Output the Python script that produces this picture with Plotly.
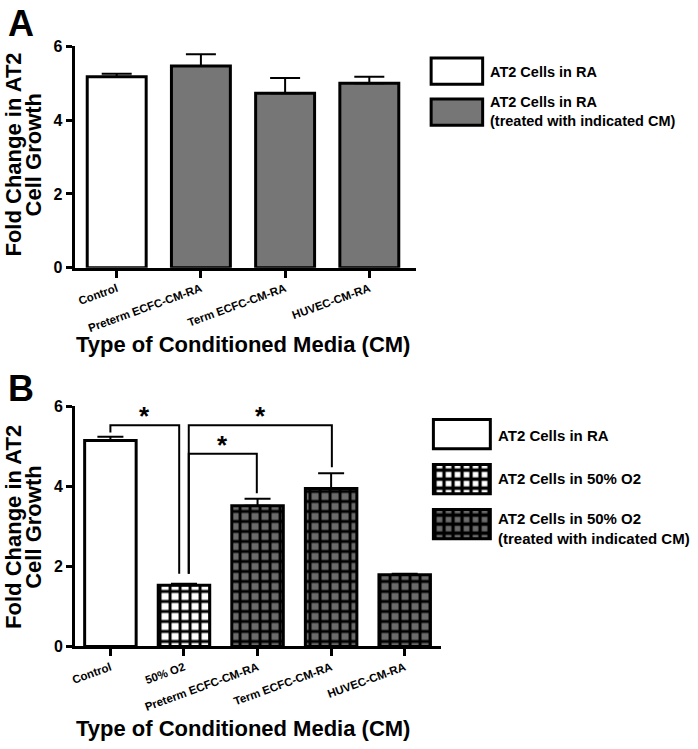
import plotly.graph_objects as go

# ---------------- data ----------------
categories_a = ["Control", "Preterm ECFC-CM-RA", "Term ECFC-CM-RA", "HUVEC-CM-RA"]
values_a = [5.18, 5.47, 4.73, 5.00]
errors_a = [0.08, 0.32, 0.41, 0.18]

categories_b = ["Control", "50% O2", "Preterm ECFC-CM-RA", "Term ECFC-CM-RA", "HUVEC-CM-RA"]
values_b = [5.15, 1.53, 3.52, 3.95, 1.79]
errors_b = [0.09, 0.04, 0.17, 0.38, 0.03]
groups_b = ["ra", "o2", "cm", "cm", "cm"]

y_ticks = [0, 2, 4, 6]

# significance brackets for panel B (category-index x, value y)
bracket_left_x = [0.0, 1.065, 1.065]
bracket_right_x = [0.935, 3.01, 1.99]
bracket_top_y = [5.53, 5.53, 4.82]
bracket_left_end = [5.35, 1.82, 1.82]
bracket_right_end = [1.82, 4.48, 3.83]
bracket_text = ["*", "*", "*"]

legend_a_labels = ["AT2 Cells in RA", "AT2 Cells in RA<br>(treated with indicated CM)"]
legend_b_labels = ["AT2 Cells in RA", "AT2 Cells in 50% O2",
                   "AT2 Cells in 50% O2<br>(treated with indicated CM)"]

# ---------------- styles ----------------
W, H = 698, 749
FONT = "Liberation Sans, Arial, sans-serif"
GRAY_A = "#767676"
GRAY_B = "#6b6b6b"
PAT_SIZE = 10
PAT_SOLID = 0.5

colors_a = ["white", GRAY_A, GRAY_A, GRAY_A]
group_style = {
    "ra": dict(bg="white", shape=""),
    "o2": dict(bg="white", shape="+"),
    "cm": dict(bg=GRAY_B, shape="+"),
}


def px_x(p):
    return p / W


def px_y(p):
    return 1 - p / H


fig = go.Figure()

# Panel A bars
idx_a = list(range(len(categories_a)))
fig.add_trace(go.Bar(
    x=idx_a, y=values_a, xaxis="x", yaxis="y", width=0.7,
    marker=dict(color=colors_a, line=dict(color="black", width=3)),
    error_y=dict(type="data", symmetric=False, array=errors_a,
                 arrayminus=[0] * len(errors_a), color="black", thickness=2, width=15),
    showlegend=False, hoverinfo="y"))

# Panel B bars, one trace per group
for g in ("ra", "o2", "cm"):
    ii = [i for i, gg in enumerate(groups_b) if gg == g]
    st = group_style[g]
    pattern = dict(shape=st["shape"], bgcolor=st["bg"], fgcolor="black",
                   size=PAT_SIZE, solidity=PAT_SOLID, fillmode="replace")
    fig.add_trace(go.Bar(
        x=ii, y=[values_b[i] for i in ii], xaxis="x2", yaxis="y2", width=0.7,
        marker=dict(color=st["bg"], line=dict(color="black", width=3), pattern=pattern),
        error_y=dict(type="data", symmetric=False, array=[errors_b[i] for i in ii],
                     arrayminus=[0] * len(ii), color="black", thickness=2, width=13),
        showlegend=False, hoverinfo="y"))

# Brackets
annotations = []
for xl, xr, yt, yl, yr, t in zip(bracket_left_x, bracket_right_x, bracket_top_y,
                                 bracket_left_end, bracket_right_end, bracket_text):
    fig.add_trace(go.Scatter(
        x=[xl, xl, xr, xr], y=[yl, yt, yt, yr], xaxis="x2", yaxis="y2",
        mode="lines", line=dict(color="black", width=2), showlegend=False,
        hoverinfo="skip"))
    annotations.append(dict(x=(xl + xr) / 2, y=yt, xref="x2", yref="y2", text=t,
                            showarrow=False, yanchor="bottom", yshift=-8,
                            font=dict(family=FONT, size=26, color="black", weight=700)))

# Legend swatches (hidden axes)
fig.add_trace(go.Bar(
    y=[0, 1], x=[1, 1], base=[0, 0], orientation="h", width=0.64,
    xaxis="x3", yaxis="y3",
    marker=dict(color=["white", GRAY_A], line=dict(color="black", width=3)),
    showlegend=False, hoverinfo="skip"))
for pos, g in enumerate(("ra", "o2", "cm")):
    st = group_style[g]
    fig.add_trace(go.Bar(
        y=[pos], x=[1], base=[0], orientation="h", width=0.65,
        xaxis="x4", yaxis="y4",
        marker=dict(color=st["bg"], line=dict(color="black", width=3),
                    pattern=dict(shape=st["shape"], bgcolor=st["bg"], fgcolor="black",
                                 size=9, solidity=0.6, fillmode="replace")),
        showlegend=False, hoverinfo="skip"))

# Legend texts
legend_a_y = [65, 106]
legend_b_y = [437, 481, 533]
for lab, yy in zip(legend_a_labels, legend_a_y):
    annotations.append(dict(x=px_x(487), y=px_y(yy), xref="paper", yref="paper",
                            text=lab, showarrow=False, xanchor="left", yanchor="middle",
                            align="left",
                            font=dict(family=FONT, size=14.5, color="black", weight=700)))
for lab, yy in zip(legend_b_labels, legend_b_y):
    annotations.append(dict(x=px_x(495), y=px_y(yy), xref="paper", yref="paper",
                            text=lab, showarrow=False, xanchor="left", yanchor="middle",
                            align="left",
                            font=dict(family=FONT, size=15, color="black", weight=700)))

# Panel letters
for letter, yy in (("A", 16), ("B", 389)):
    annotations.append(dict(x=px_x(17), y=px_y(yy), xref="paper", yref="paper", text=letter,
                            showarrow=False, xanchor="center", yanchor="middle",
                            font=dict(family=FONT, size=36, color="black", weight=700)))

# Axis titles (as annotations for exact placement)
for yy in (344, 737):
    annotations.append(dict(x=px_x(240), y=px_y(yy), xref="paper", yref="paper",
                            text="Type of Conditioned Media (CM)", showarrow=False,
                            xanchor="center", yanchor="middle",
                            font=dict(family=FONT, size=22, color="black", weight=700)))
for yc in (150, 531):
    for lab, xx in (("Fold Change in AT2", 10), ("Cell Growth", 30)):
        annotations.append(dict(x=px_x(xx), y=px_y(yc), xref="paper", yref="paper",
                                text=lab, showarrow=False, textangle=-90,
                                xanchor="center", yanchor="middle",
                                font=dict(family=FONT, size=22, color="black", weight=700)))

xaxis_common = dict(showline=True, linewidth=3, linecolor="black", ticks="outside",
                    ticklen=7, tickwidth=3, tickcolor="black", showgrid=False,
                    zeroline=False, tickangle=-20, fixedrange=True,
                    tickfont=dict(family=FONT, size=11.5, color="black", weight=700))
yaxis_common = dict(showline=True, linewidth=3, linecolor="black", ticks="outside",
                    ticklen=6, tickwidth=3, tickcolor="black", showgrid=False,
                    zeroline=False, range=[0, 6], tickvals=y_ticks, fixedrange=True,
                    tickfont=dict(family=FONT, size=16, color="black", weight=700))
hidden = dict(visible=False, fixedrange=True)

fig.update_layout(
    width=W, height=H, margin=dict(l=0, r=0, t=0, b=0),
    paper_bgcolor="white", plot_bgcolor="white", barmode="overlay",
    font=dict(family=FONT, color="black"),
    xaxis=dict(domain=[px_x(71), px_x(414)], range=[-0.5, 3.55], anchor="y",
               tickvals=idx_a, ticktext=categories_a, **xaxis_common),
    yaxis=dict(domain=[px_y(265.7), px_y(39.3)], anchor="x", **yaxis_common),
    xaxis2=dict(domain=[px_x(71.5), px_x(440)], range=[-0.48, 4.5], anchor="y2",
                tickvals=list(range(len(categories_b))), ticktext=categories_b,
                **xaxis_common),
    yaxis2=dict(domain=[px_y(653.3), px_y(407.7)], anchor="x2", **yaxis_common),
    xaxis3=dict(domain=[px_x(427), px_x(484)], range=[-0.05, 1.05], anchor="y3", **hidden),
    yaxis3=dict(domain=[px_y(127.5), px_y(43.5)], range=[1.5, -0.5], anchor="x3", **hidden),
    xaxis4=dict(domain=[px_x(429), px_x(492)], range=[-0.05, 1.05], anchor="y4", **hidden),
    yaxis4=dict(domain=[px_y(551), px_y(413)], range=[2.5, -0.5], anchor="x4", **hidden),
    annotations=annotations,
    showlegend=False,
)

fig.write_html("out.html", config={"displayModeBar": False},
               post_script="document.body.style.margin='0';document.body.style.padding='0';")
